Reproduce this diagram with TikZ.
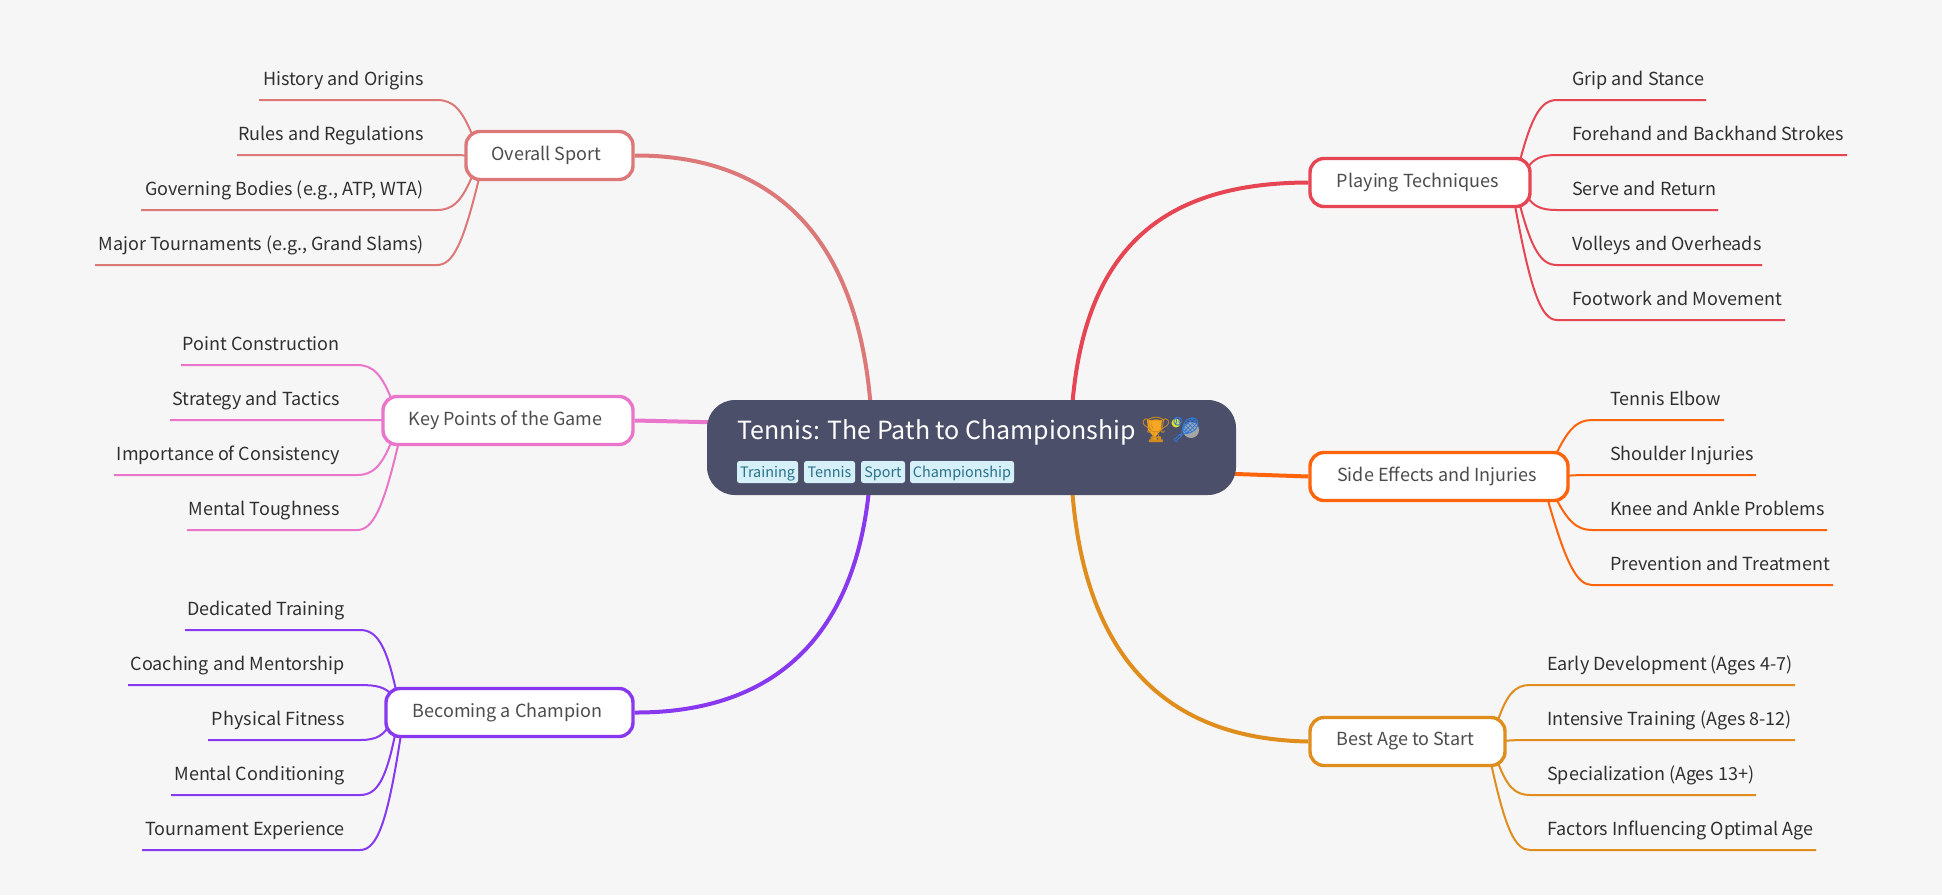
\documentclass[tikz,border=0pt]{standalone}
\usepackage{fontspec}
\setmainfont{Noto Sans CJK SC}
\newfontfamily\emojifont{Noto Emoji}
\usetikzlibrary{backgrounds,calc}
\definecolor{bgc}{HTML}{F6F6F6}
\definecolor{rootc}{HTML}{4C4F69}
\definecolor{tagbg}{HTML}{D5F0F8}
\definecolor{tagfg}{HTML}{2B7288}
\definecolor{txt}{HTML}{303030}
\definecolor{ctxt}{HTML}{4C4C4C}
\definecolor{cflam}{HTML}{DD7878}
\definecolor{cpink}{HTML}{EA76CB}
\definecolor{cmauve}{HTML}{8839EF}
\definecolor{cred}{HTML}{E64553}
\definecolor{cpeach}{HTML}{FE640B}
\definecolor{cyel}{HTML}{DF8E1D}
\definecolor{cgold}{HTML}{F5A623}
\definecolor{cball}{HTML}{DDE02A}
\definecolor{cracket}{HTML}{2F7BE0}
\tikzset{
  branch/.style={draw=#1,line width=3.4pt,fill=white,rounded corners=14pt,minimum height=48pt,inner sep=0pt,text=ctxt,font=\fontsize{18}{20}\selectfont},
  trunk/.style={draw=#1,line width=4pt},
  twig/.style={draw=#1,line width=2pt},
  leaftext/.style={text=txt,inner sep=0pt,font=\fontsize{18}{20}\selectfont},
  tagbox/.style={fill=tagbg,text=tagfg,rounded corners=2.5pt,inner sep=0pt,minimum height=22pt,text height=12.5pt,text depth=2pt,font=\fontsize{14.4}{17}\selectfont},
}
% id, far x, line y, branch, dx, dy, text
\newcommand\twigline[6]{%
  \coordinate (#1a) at (#2,#3);
  \coordinate (#1b) at (\bendx,#3);
  \coordinate (#1c) at (\ctrlx,#3);
  \coordinate (#1d) at ([xshift=#5pt,yshift=#6pt]#4.center);
  \begin{pgfonlayer}{background}
  \draw[twig=\twc] (#1a) -- (#1b) .. controls ($(#1b)!0.75!(#1c)$) and ($(#1d)!0.75!(#1c)$) .. (#1d);
  \end{pgfonlayer}}
\newcommand\leafL[7]{%
  \node[leaftext,anchor=base east] (#1) at (\textx,#3-15) {#7};
  \twigline{#1}{#2}{#3}{#4}{#5}{#6}}
\newcommand\leafR[7]{%
  \node[leaftext,anchor=base west] (#1) at (\textx,#3-15) {#7};
  \twigline{#1}{#2}{#3}{#4}{#5}{#6}}
\begin{document}
\begin{tikzpicture}[x=1pt,y=-1pt]
\useasboundingbox (0,0) rectangle (1942,895);
\begin{pgfonlayer}{background}
\fill[bgc] (0,0) rectangle (1942,895);
\end{pgfonlayer}
% root
\node[fill=rootc,rounded corners=28pt,minimum width=529pt,minimum height=95pt,inner sep=0pt] (root) at (971.5,447.5) {};
\node[anchor=base west,inner sep=0pt,text=white,font=\fontsize{25}{30}\selectfont] (title) at (737,439) {Tennis: The Path to Championship};
% colour behind the outline emoji glyphs
\fill[cgold] (1147,420) -- (1162,420) -- (1161,430) -- (1156,436) -- (1157,441) -- (1152,441) -- (1153,436) -- (1148,430) -- cycle;
\fill[cball] (1176,423) circle (4.5);
\fill[gray!70] (1191,430) circle (8);
\node[anchor=base west,inner sep=0pt,text=cgold!85!black,font=\emojifont\fontsize{25}{30}\selectfont] (em1) at (1140,438) {🏆};
\node[anchor=base west,inner sep=0pt,text=cracket,font=\emojifont\fontsize{25}{30}\selectfont] (em2) at (1170,438) {🎾};
\node[tagbox,minimum width=61pt] (t1) at (767.5,472) {Training};
\node[tagbox,minimum width=51pt] (t2) at (829.5,472) {Tennis};
\node[tagbox,minimum width=44pt] (t3) at (883,472) {Sport};
\node[tagbox,minimum width=104pt] (t4) at (962,472) {Championship};
% branches
\node[branch=cflam,minimum width=167pt] (os) at (549.5,155.5) {Overall Sport\kern6pt};
\node[branch=cpink,minimum width=250pt] (kp) at (508,420.5) {Key Points of the Game\kern5pt};
\node[branch=cmauve,minimum width=247pt] (bc) at (509.5,712.5) {Becoming a Champion\kern4pt};
\node[branch=cred,minimum width=220pt] (pt) at (1420,182.5) {Playing Techniques\kern4pt};
\node[branch=cpeach,minimum width=258pt] (se) at (1439,476.5) {Side Effects and Injuries\kern4pt};
\node[branch=cyel,minimum width=195pt] (ba) at (1407.5,741.5) {Best Age to Start\kern4pt};
% trunks
\coordinate (kpj) at ([xshift=-250pt,yshift=25pt]root.center);
\coordinate (sej) at ([xshift=250pt,yshift=-26pt]root.center);
\begin{pgfonlayer}{background}
\draw[trunk=cflam] (os.east) .. controls (780,155) and (870,245) .. ([xshift=-99pt]root.center);
\draw[trunk=cpink] (kp.east) -- (kpj);
\draw[trunk=cmauve] (bc.east) .. controls (780,713) and (868,630) .. ([xshift=-100pt]root.center);
\draw[trunk=cred] (pt.west) .. controls (1160,183) and (1072,250) .. ([xshift=99pt]root.center);
\draw[trunk=cpeach] (se.west) -- (sej);
\draw[trunk=cyel] (ba.west) .. controls (1160,739) and (1072,650) .. ([xshift=99pt]root.center);
\end{pgfonlayer}
% leaves
\def\textx{424}\def\bendx{437}\def\ctrlx{458}\def\twc{cflam}
\leafL{a1}{259}{100}{os}{-77}{20}{History and Origins}
\leafL{a2}{237}{155}{os}{-80}{0}{Rules and Regulations}
\leafL{a3}{141}{210}{os}{-77}{-20}{Governing Bodies (e.g., ATP, WTA)}
\leafL{a4}{95}{265}{os}{-71}{-25}{Major Tournaments (e.g., Grand Slams)}
\def\textx{340}\def\bendx{357}\def\ctrlx{378}\def\twc{cpink}
\leafL{b1}{181}{365}{kp}{-116}{20}{Point Construction}
\leafL{b2}{170}{420}{kp}{-120}{0}{Strategy and Tactics}
\leafL{b3}{114}{475}{kp}{-116}{-20}{Importance of Consistency}
\leafL{b4}{187}{530}{kp}{-110}{-25}{Mental Toughness}
\def\textx{345}\def\bendx{360}\def\ctrlx{383}\def\twc{cmauve}
\leafL{c1}{185}{630}{bc}{-113}{20}{Dedicated Training}
\leafL{c2}{128}{685}{bc}{-118}{18}{Coaching and Mentorship}
\leafL{c3}{208}{740}{bc}{-118}{-8}{Physical Fitness}
\leafL{c4}{171}{795}{bc}{-114}{-20}{Mental Conditioning}
\leafL{c5}{142}{850}{bc}{-109}{-25}{Tournament Experience}
\def\textx{1572}\def\bendx{1557}\def\ctrlx{1536}\def\twc{cred}
\leafR{d1}{1706}{100}{pt}{100}{22}{Grip and Stance}
\leafR{d2}{1847}{155}{pt}{107}{14}{Forehand and Backhand Strokes}
\leafR{d3}{1718}{210}{pt}{107}{-14}{Serve and Return}
\leafR{d4}{1762}{265}{pt}{100}{-23}{Volleys and Overheads}
\leafR{d5}{1785}{320}{pt}{95}{-23}{Footwork and Movement}
\def\textx{1610}\def\bendx{1592}\def\ctrlx{1572}\def\twc{cpeach}
\leafR{e1}{1724}{420}{se}{116}{20}{Tennis Elbow}
\leafR{e2}{1756}{475}{se}{122}{0}{Shoulder Injuries}
\leafR{e3}{1827}{530}{se}{116}{-20}{Knee and Ankle Problems}
\leafR{e4}{1833}{585}{se}{109}{-24}{Prevention and Treatment}
\def\textx{1547}\def\bendx{1530}\def\ctrlx{1510}\def\twc{cyel}
\leafR{f1}{1795}{685}{ba}{90}{20}{Early Development (Ages 4-7)}
\leafR{f2}{1795}{740}{ba}{92}{0}{Intensive Training (Ages 8-12)}
\leafR{f3}{1756}{795}{ba}{90}{-20}{Specialization (Ages 13+)}
\leafR{f4}{1816}{850}{ba}{84}{-24}{Factors Influencing Optimal Age}
\end{tikzpicture}
\end{document}
